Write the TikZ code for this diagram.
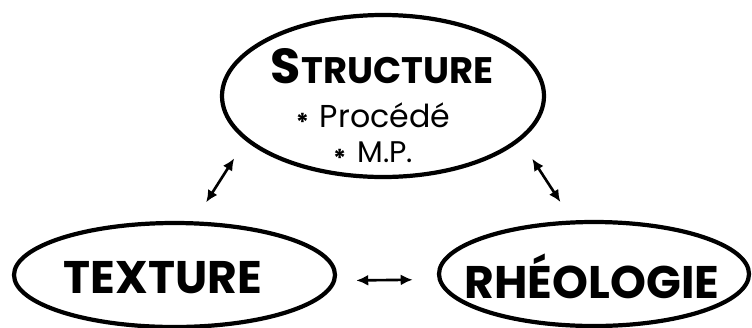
\documentclass[tikz,border=0pt]{standalone}
\usepackage{fontspec}
\setmainfont{Poppins}
\usepackage{tikz}
\usetikzlibrary{arrows.meta, positioning, shapes.geometric}
\newcommand{\bulletstar}{\raisebox{-2.5pt}{\fontsize{14}{14}\selectfont\bfseries *}\hspace{0.22cm}}

\begin{document}
\begin{tikzpicture}[
      bubble/.style={draw, ellipse, line width=2.4pt, inner sep=0pt},
      lbl/.style={anchor=base, inner sep=0pt},
      arr/.style={{Latex[length=2.4mm,width=2.2mm]}-{Latex[length=2.4mm,width=2.2mm]}, line width=1.5pt}
    ]
    \useasboundingbox (0,0) rectangle (15.04,6.54);
    \node[bubble, minimum width=6.44cm, minimum height=3.24cm] (structure) at (7.66,4.62) {};
    \node[bubble, minimum width=6.42cm, minimum height=2.08cm] (texture) at (3.49,1.04) {};
    \node[bubble, minimum width=6.2cm, minimum height=2.08cm] (rheo) at (11.88,1.06) {};

    \node[lbl] (structuretitle) at (7.64,4.88) {\bfseries\fontsize{28}{30}\selectfont S\fontsize{21}{24}\selectfont TRUCTURE};
    \node[inner sep=0pt, align=center, font=\fontsize{18}{20}\selectfont] (items) at (7.46,3.84)
      {\bulletstar Procédé\\ \bulletstar{\fontsize{17}{20}\selectfont M.P.}};
    \node[lbl] (texturetitle) at (3.26,0.68) {\bfseries\fontsize{26}{30}\selectfont TEXTURE};
    \node[lbl] (rheotitle) at (11.84,0.58) {\bfseries\fontsize{26}{30}\selectfont RHÉOLOGIE};

    \draw[arr, shorten <=0.45cm, shorten >=0.42cm] (texture.70) -- (structure.198);
    \draw[arr, shorten <=0.43cm, shorten >=0.44cm] (structure.-18) -- (rheo.112.7);
    \draw[arr, shorten <=0.4cm, shorten >=0.5cm] (texture.-2.5) -- (rheo.182.9);
  \end{tikzpicture}
\end{document}
